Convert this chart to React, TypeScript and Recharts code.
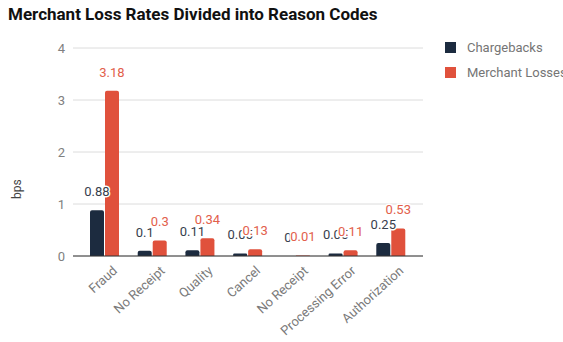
import React from "react";
import { Bar, BarChart, CartesianGrid, LabelList, XAxis, YAxis } from "recharts";

const reasons = ["Fraud", "No Receipt", "Quality", "Cancel", "No Receipt", "Processing Error", "Authorization"];
const chargebacks = [0.88, 0.1, 0.11, 0.05, 0, 0.05, 0.25];
const merchantLosses = [3.18, 0.3, 0.34, 0.13, 0.01, 0.11, 0.53];
const yTicks = [0, 1, 2, 3, 4];

const NAVY = "#1c2b3f";
const RED = "#e0513c";
const BAR_SIZE = 14;
const BAR_GAP = 1;

const data = reasons.map((reason, i) => ({
  key: `${reason}-${i}`,
  reason,
  chargebacks: chargebacks[i],
  losses: merchantLosses[i],
}));

const FONT = "Roboto, 'Noto Sans', sans-serif";

function ValueText({ x, y, color, value }: { x: number; y: number; color: string; value: number }) {
  return (
    <text
      x={x}
      y={y - 14}
      textAnchor="middle"
      fontSize={13}
      fontFamily={FONT}
      fill={color}
      stroke="#fff"
      strokeWidth={3}
      paintOrder="stroke"
    >
      {value}
    </text>
  );
}

// Both value labels of a category are drawn together from the losses bar, so a
// zero-height chargeback bar still gets its label and the red one sits on top.
function pairLabel(props: any) {
  const { x, y, width, height, value, index } = props;
  const bx = Number(x);
  const by = Number(y);
  const bw = Number(width);
  const bh = Number(height);
  const base = by + bh;
  const pxPerUnit = bh / Number(value);
  const cb = chargebacks[index];
  return (
    <g>
      <ValueText x={bx - BAR_GAP - bw / 2} y={base - cb * pxPerUnit} color="#37404d" value={cb} />
      <ValueText x={bx + bw / 2} y={by} color="#e2604b" value={Number(value)} />
    </g>
  );
}

function ReasonTick(props: any) {
  const { x, y, payload } = props;
  const label = reasons[payload.index] ?? payload.value;
  return (
    <g transform={`translate(${x + 7},${y + 1})`}>
      <text
        transform="rotate(-42)"
        textAnchor="end"
        dy="0.71em"
        fontSize={13}
        fontFamily={FONT}
        fill="#7a7a7a"
      >
        {label}
      </text>
    </g>
  );
}

export default function App() {
  return (
    <div style={{ position: "absolute", left: 0, top: 0, width: 563, height: 342, background: "#fff" }}>
      <div
        style={{
          position: "absolute",
          left: 8,
          top: 4,
          fontFamily: FONT,
          fontWeight: 700,
          fontSize: 17,
          color: "#111",
          whiteSpace: "nowrap",
        }}
      >
        Merchant Loss Rates Divided into Reason Codes
      </div>
      <div
        style={{
          position: "absolute",
          left: 10,
          top: 199,
          transform: "rotate(-90deg)",
          transformOrigin: "left top",
          fontFamily: FONT,
          fontSize: 12,
          color: "#444",
        }}
      >
        bps
      </div>
      {[
        { name: "Chargebacks", color: NAVY, top: 40 },
        { name: "Merchant Losses", color: RED, top: 65 },
      ].map((item) => (
        <div
          key={item.name}
          style={{
            position: "absolute",
            left: 445,
            top: item.top,
            display: "flex",
            alignItems: "center",
            fontFamily: FONT,
            fontSize: 13,
            color: "#757575",
            whiteSpace: "nowrap",
          }}
        >
          <span style={{ display: "inline-block", width: 11, height: 11, background: item.color, marginRight: 11 }} />
          {item.name}
        </div>
      ))}
      <BarChart
        width={563}
        height={342}
        data={data}
        margin={{ top: 48, right: 140, bottom: 0, left: 13 }}
        barSize={BAR_SIZE}
        barGap={BAR_GAP}
        style={{ position: "absolute", left: 0, top: 0 }}
      >
        <CartesianGrid vertical={false} stroke="#dcdcdc" />
        <XAxis
          dataKey="key"
          height={86}
          interval={0}
          tickLine={false}
          axisLine={{ stroke: "#333" }}
          padding={{ left: 8, right: 8 }}
          tick={<ReasonTick />}
        />
        <YAxis
          width={60}
          domain={[0, 4]}
          ticks={yTicks}
          tickLine={false}
          axisLine={false}
          tick={{ fontSize: 13, fontFamily: FONT, fill: "#808080" }}
        />
        <Bar dataKey="chargebacks" fill={NAVY} radius={[2, 2, 0, 0]} isAnimationActive={false} />
        <Bar dataKey="losses" fill={RED} radius={[2, 2, 0, 0]} isAnimationActive={false}>
          <LabelList dataKey="losses" content={pairLabel} />
        </Bar>
      </BarChart>
    </div>
  );
}
